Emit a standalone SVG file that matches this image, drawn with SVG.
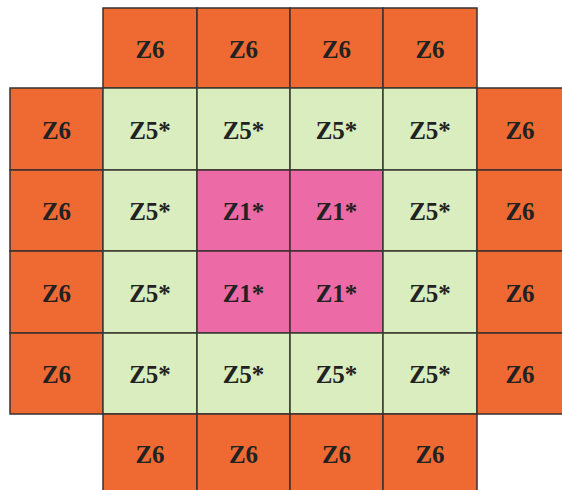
<svg xmlns="http://www.w3.org/2000/svg" width="562" height="490" viewBox="0 0 562 490">
<style>
.o{fill:#EE6A32;stroke:#3a3030;stroke-width:1.5}
.g{fill:#D9EDBE;stroke:#3a3a30;stroke-width:1.5}
.p{fill:#EC6BA6;stroke:#3a3030;stroke-width:1.5}
text{font-family:'Liberation Serif','Times New Roman',serif;font-weight:700;font-size:25px;fill:#222;text-anchor:middle}
</style>
<rect width="562" height="490" fill="#fff"/>
<!-- row 0 -->
<g id="r0c1"><rect class="o" x="103" y="8" width="94" height="80"/><text x="150" y="57.5">Z6</text></g>
<g id="r0c2"><rect class="o" x="197" y="8" width="93" height="80"/><text x="243.5" y="57.5">Z6</text></g>
<g id="r0c3"><rect class="o" x="290" y="8" width="93" height="80"/><text x="336.5" y="57.5">Z6</text></g>
<g id="r0c4"><rect class="o" x="383" y="8" width="94" height="80"/><text x="430" y="57.5">Z6</text></g>
<!-- row 1 -->
<g id="r1c0"><rect class="o" x="10" y="88" width="93" height="82"/><text x="56.5" y="138.5">Z6</text></g>
<g id="r1c1"><rect class="g" x="103" y="88" width="94" height="82"/><text x="150" y="138.5">Z5*</text></g>
<g id="r1c2"><rect class="g" x="197" y="88" width="93" height="82"/><text x="243.5" y="138.5">Z5*</text></g>
<g id="r1c3"><rect class="g" x="290" y="88" width="93" height="82"/><text x="336.5" y="138.5">Z5*</text></g>
<g id="r1c4"><rect class="g" x="383" y="88" width="94" height="82"/><text x="430" y="138.5">Z5*</text></g>
<g id="r1c5"><rect class="o" x="477" y="88" width="95" height="82"/><text x="520" y="138.5">Z6</text></g>
<!-- row 2 -->
<g id="r2c0"><rect class="o" x="10" y="170" width="93" height="81"/><text x="56.5" y="220">Z6</text></g>
<g id="r2c1"><rect class="g" x="103" y="170" width="94" height="81"/><text x="150" y="220">Z5*</text></g>
<g id="r2c2"><rect class="p" x="197" y="170" width="93" height="81"/><text x="243.5" y="220">Z1*</text></g>
<g id="r2c3"><rect class="p" x="290" y="170" width="93" height="81"/><text x="336.5" y="220">Z1*</text></g>
<g id="r2c4"><rect class="g" x="383" y="170" width="94" height="81"/><text x="430" y="220">Z5*</text></g>
<g id="r2c5"><rect class="o" x="477" y="170" width="95" height="81"/><text x="520" y="220">Z6</text></g>
<!-- row 3 -->
<g id="r3c0"><rect class="o" x="10" y="251" width="93" height="82"/><text x="56.5" y="301.5">Z6</text></g>
<g id="r3c1"><rect class="g" x="103" y="251" width="94" height="82"/><text x="150" y="301.5">Z5*</text></g>
<g id="r3c2"><rect class="p" x="197" y="251" width="93" height="82"/><text x="243.5" y="301.5">Z1*</text></g>
<g id="r3c3"><rect class="p" x="290" y="251" width="93" height="82"/><text x="336.5" y="301.5">Z1*</text></g>
<g id="r3c4"><rect class="g" x="383" y="251" width="94" height="82"/><text x="430" y="301.5">Z5*</text></g>
<g id="r3c5"><rect class="o" x="477" y="251" width="95" height="82"/><text x="520" y="301.5">Z6</text></g>
<!-- row 4 -->
<g id="r4c0"><rect class="o" x="10" y="333" width="93" height="81"/><text x="56.5" y="383">Z6</text></g>
<g id="r4c1"><rect class="g" x="103" y="333" width="94" height="81"/><text x="150" y="383">Z5*</text></g>
<g id="r4c2"><rect class="g" x="197" y="333" width="93" height="81"/><text x="243.5" y="383">Z5*</text></g>
<g id="r4c3"><rect class="g" x="290" y="333" width="93" height="81"/><text x="336.5" y="383">Z5*</text></g>
<g id="r4c4"><rect class="g" x="383" y="333" width="94" height="81"/><text x="430" y="383">Z5*</text></g>
<g id="r4c5"><rect class="o" x="477" y="333" width="95" height="81"/><text x="520" y="383">Z6</text></g>
<!-- row 5 -->
<g id="r5c1"><rect class="o" x="103" y="414" width="94" height="86"/><text x="150" y="463">Z6</text></g>
<g id="r5c2"><rect class="o" x="197" y="414" width="93" height="86"/><text x="243.5" y="463">Z6</text></g>
<g id="r5c3"><rect class="o" x="290" y="414" width="93" height="86"/><text x="336.5" y="463">Z6</text></g>
<g id="r5c4"><rect class="o" x="383" y="414" width="94" height="86"/><text x="430" y="463">Z6</text></g>
<g id="connectors"></g>
</svg>
